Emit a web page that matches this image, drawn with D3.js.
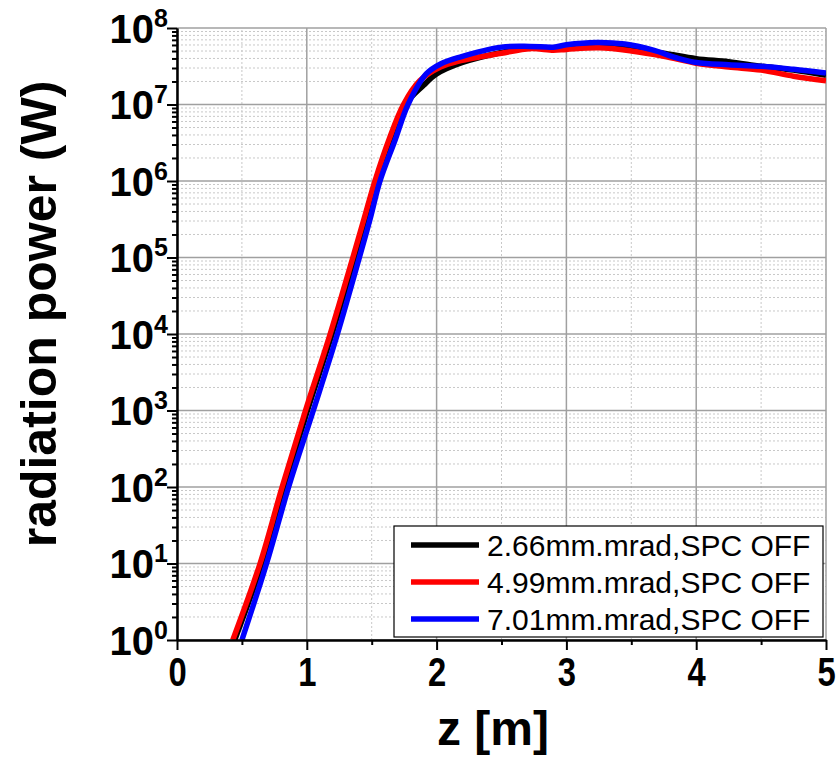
<!DOCTYPE html>
<html>
<head>
<meta charset="utf-8">
<script src="https://cdn.jsdelivr.net/npm/d3@7"></script>
<style>
  body { margin: 0; background: #fff; }
  svg text { font-family: Arial, "Liberation Sans", sans-serif; }
</style>
</head>
<body>
<div id="chart"></div>
<script>
// values: z in metres, power in W
var seriesNames = ["2.66mm.mrad,SPC OFF", "4.99mm.mrad,SPC OFF", "7.01mm.mrad,SPC OFF"];
var seriesColors = ["#000000", "#ff0000", "#0000ff"];

var zBlack = [0.445, 0.655, 0.825, 1.005, 1.195, 1.37, 1.46, 1.54, 1.655, 1.76, 1.9, 2.0, 2.2, 2.5, 2.72, 2.9, 3.0, 3.25, 3.5, 3.75, 4.0, 4.25, 4.5, 4.75, 5.0];
var pBlack = [1, 10, 100, 1e3, 1e4, 1e5, 3.16e5, 1e6, 3.39e6, 1e7, 1.78e7, 2.51e7, 3.55e7, 4.79e7, 5.5e7, 5.37e7, 5.62e7, 5.75e7, 5.37e7, 4.68e7, 3.98e7, 3.63e7, 3.16e7, 2.82e7, 2.4e7];

var zRed = [0.43, 0.64, 0.81, 0.99, 1.18, 1.355, 1.44, 1.525, 1.635, 1.745, 1.87, 2.03, 2.18, 2.5, 2.72, 2.9, 3.0, 3.25, 3.5, 3.75, 4.0, 4.25, 4.5, 4.75, 5.0];
var pRed = [1, 10, 100, 1e3, 1e4, 1e5, 3.16e5, 1e6, 3.55e6, 1e7, 2.04e7, 3.09e7, 3.72e7, 4.68e7, 5.37e7, 5.13e7, 5.25e7, 5.5e7, 5.01e7, 4.27e7, 3.47e7, 3.09e7, 2.82e7, 2.34e7, 2.04e7];

var zBlue = [0.50, 0.69, 0.86, 1.05, 1.236, 1.405, 1.487, 1.564, 1.679, 1.78, 1.92, 2.03, 2.18, 2.5, 2.72, 2.9, 3.0, 3.23, 3.45, 3.67, 3.85, 4.0, 4.25, 4.5, 4.75, 5.0];
var pBlue = [1, 10, 100, 1e3, 1e4, 1e5, 3.16e5, 1e6, 3.39e6, 1e7, 2.51e7, 3.39e7, 4.17e7, 5.62e7, 5.75e7, 5.62e7, 6.03e7, 6.46e7, 6.17e7, 5.13e7, 4.07e7, 3.55e7, 3.31e7, 3.16e7, 2.88e7, 2.57e7];

var xTicks = [0, 1, 2, 3, 4, 5];
var xMinorTicks = [0.5, 1.5, 2.5, 3.5, 4.5];
var yExponents = [0, 1, 2, 3, 4, 5, 6, 7, 8];

var width = 836, height = 759;
var margin = { top: 28, right: 10, bottom: 119, left: 177 };

var svg = d3.select("#chart")
  .append("svg")
  .attr("width", width)
  .attr("height", height);

var x = d3.scaleLinear()
  .domain([0, 5])
  .range([margin.left, width - margin.right]);

var y = d3.scaleLog()
  .domain([1, 1e8])
  .range([height - margin.bottom, margin.top]);

var yMajor = yExponents.map(function(e) { return Math.pow(10, e); });
var yMinor = [];
yExponents.slice(0, -1).forEach(function(e) {
  for (var k = 2; k <= 9; k++) yMinor.push(k * Math.pow(10, e));
});

// grid
var grid = svg.append("g");
grid.selectAll(".ymin").data(yMinor).enter().append("line")
  .attr("x1", x(0)).attr("x2", x(5))
  .attr("y1", d => y(d)).attr("y2", d => y(d))
  .attr("stroke", "#c8c8c8").attr("stroke-width", 1).attr("stroke-dasharray", "2,2");
grid.selectAll(".xmin").data(xMinorTicks).enter().append("line")
  .attr("x1", d => x(d)).attr("x2", d => x(d))
  .attr("y1", y(1)).attr("y2", y(1e8))
  .attr("stroke", "#c8c8c8").attr("stroke-width", 1).attr("stroke-dasharray", "2,2");
grid.selectAll(".ymaj").data(yMajor).enter().append("line")
  .attr("x1", x(0)).attr("x2", x(5))
  .attr("y1", d => y(d)).attr("y2", d => y(d))
  .attr("stroke", "#a0a0a0").attr("stroke-width", 1.5);
grid.selectAll(".xmaj").data(xTicks).enter().append("line")
  .attr("x1", d => x(d)).attr("x2", d => x(d))
  .attr("y1", y(1)).attr("y2", y(1e8))
  .attr("stroke", "#a0a0a0").attr("stroke-width", 1.5);

// lines
svg.append("clipPath").attr("id", "plotclip")
  .append("rect")
  .attr("x", x(0)).attr("y", y(1e8))
  .attr("width", x(5) - x(0)).attr("height", y(1) - y(1e8));

var series = [
  { z: zBlack, p: pBlack },
  { z: zRed, p: pRed },
  { z: zBlue, p: pBlue }
];

var line = d3.line()
  .x(d => x(d[0]))
  .y(d => y(d[1]))
  .curve(d3.curveCatmullRom.alpha(0.5));

svg.append("g").attr("clip-path", "url(#plotclip)")
  .selectAll("path")
  .data(series)
  .enter()
  .append("path")
    .attr("fill", "none")
    .attr("stroke", (d, i) => seriesColors[i])
    .attr("stroke-width", 5.5)
    .attr("stroke-linejoin", "round")
    .attr("d", d => line(d.z.map((z, i) => [z, d.p[i]])));

// axes
function styleAxis(g) {
  g.select(".domain").attr("stroke", "#000").attr("stroke-width", 2);
  g.selectAll(".tick line").attr("stroke", "#000").attr("stroke-width", 2);
}

svg.append("g")
  .attr("transform", "translate(" + x(0) + ",0)")
  .call(d3.axisLeft(y).tickValues(yMinor).tickSize(5).tickFormat("").tickSizeOuter(0))
  .call(styleAxis);

var yAxis = svg.append("g")
  .attr("transform", "translate(" + x(0) + ",0)")
  .call(d3.axisLeft(y).tickValues(yMajor).tickSize(10).tickFormat("").tickSizeOuter(0))
  .call(styleAxis);

yAxis.selectAll(".tick").each(function(d, i) {
  var t = d3.select(this).append("text")
    .attr("x", -9)
    .attr("y", 14)
    .attr("text-anchor", "end")
    .attr("fill", "#000")
    .style("font-weight", "bold");
  t.append("tspan").style("font-size", "40px").text("10");
  t.append("tspan").style("font-size", "25px").attr("dy", -16).text(yExponents[i]);
});

svg.append("g")
  .attr("transform", "translate(0," + y(1) + ")")
  .call(d3.axisBottom(x).tickValues(xMinorTicks).tickSize(5).tickFormat("").tickSizeOuter(0))
  .call(styleAxis);

var xAxis = svg.append("g")
  .attr("transform", "translate(0," + y(1) + ")")
  .call(d3.axisBottom(x).tickValues(xTicks).tickSize(10).tickPadding(8).tickFormat(d3.format("d")).tickSizeOuter(0))
  .call(styleAxis);

// the tick digits are narrow in the original
xAxis.selectAll(".tick text")
  .attr("fill", "#000")
  .attr("transform", "scale(0.82,1)")
  .style("font-size", "40px")
  .style("font-weight", "bold")
  .style("font-family", "Arial, 'Liberation Sans', sans-serif");

// axis titles
svg.append("text")
  .attr("x", 493)
  .attr("y", 745)
  .attr("text-anchor", "middle")
  .style("font-size", "48px")
  .style("font-weight", "bold")
  .text("z [m]");

svg.append("text")
  .attr("transform", "translate(56,314) rotate(-90)")
  .attr("text-anchor", "middle")
  .style("font-size", "50px")
  .style("font-weight", "bold")
  .text("radiation power (W)");

// legend
var legend = svg.append("g").attr("transform", "translate(394,526)");
legend.append("rect")
  .attr("width", 429).attr("height", 111)
  .attr("fill", "#fff").attr("stroke", "#000").attr("stroke-width", 1.2);

seriesNames.forEach(function(name, i) {
  var row = legend.append("g").attr("transform", "translate(0," + (19 + i * 37) + ")");
  row.append("line")
    .attr("x1", 17).attr("x2", 85)
    .attr("stroke", seriesColors[i]).attr("stroke-width", 5.5);
  row.append("text")
    .attr("x", 93).attr("y", 10.5)
    .style("font-size", "30px")
    .text(name);
});
</script>
</body>
</html>
